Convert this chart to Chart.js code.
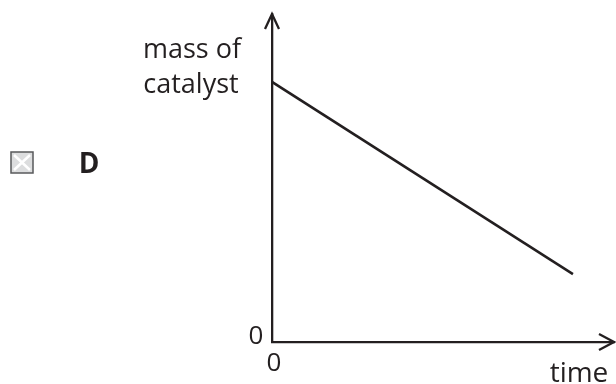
<!DOCTYPE html>
<html>
<head>
<meta charset="utf-8">
<script src="https://cdn.jsdelivr.net/npm/chart.js@4"></script>
<style>
  html, body { margin: 0; padding: 0; background: #fff; }
  #wrap { width: 616px; height: 384px; }
</style>
</head>
<body>
<div id="wrap"><canvas id="massChart" width="616" height="384"></canvas></div>
<script>
const ctx = document.getElementById("massChart").getContext("2d");

// data (arbitrary units, axes 0..10)
const timeValues = [0, 8.8];
const massValues = [7.93, 2.07];
const yAxisLabel = ["mass of", "catalyst"];
const xAxisLabel = "time";
const originLabel = "0";
const optionLetter = "D";

const ink = "#231f20";
const font = "'Open Sans', 'Noto Sans', sans-serif";

const points = timeValues.map((t, i) => ({ x: t, y: massValues[i] }));

// arrows, labels and the answer box
const sketchPlugin = {
  id: "sketch",
  afterDraw(chart) {
    const c = chart.ctx;
    const { left, right, top, bottom } = chart.chartArea;
    c.save();
    c.strokeStyle = ink;
    c.lineWidth = 2.3;
    c.lineCap = "butt";
    c.lineJoin = "miter";

    // y arrow head
    c.beginPath();
    c.moveTo(left - 7, top + 15);
    c.lineTo(left, top);
    c.lineTo(left + 7, top + 15);
    c.stroke();

    // x arrow head
    c.beginPath();
    c.moveTo(right - 15, bottom - 8);
    c.lineTo(right, bottom);
    c.lineTo(right - 15, bottom + 8);
    c.stroke();

    c.fillStyle = ink;
    c.font = "27px " + font;
    c.textAlign = "center";
    c.textBaseline = "alphabetic";
    c.fillText(yAxisLabel[0], 192, 58);
    c.fillText(yAxisLabel[1], 191, 93);

    c.font = "26px " + font;
    c.fillText(originLabel, left - 16, bottom + 2);
    c.fillText(originLabel, left + 2, bottom + 29);
    c.font = "28px " + font;
    c.fillText(xAxisLabel, right - 35, bottom + 40);

    // answer box with a cross
    c.fillStyle = "#dcddde";
    c.fillRect(11, 152, 22, 21);
    c.strokeStyle = "#58595b";
    c.lineWidth = 1.5;
    c.strokeRect(11, 152, 22, 21);
    c.strokeStyle = "#fff";
    c.lineWidth = 2.5;
    c.beginPath();
    c.moveTo(14, 155); c.lineTo(30, 170);
    c.moveTo(30, 155); c.lineTo(14, 170);
    c.stroke();

    c.fillStyle = ink;
    c.font = "bold 28px " + font;
    c.fillText(optionLetter, 89, 173);
    c.restore();
  }
};

const chart = new Chart(ctx, {
  type: "scatter",
  data: {
    datasets: [{
      data: points,
      showLine: true,
      borderColor: ink,
      borderWidth: 2.5,
      pointRadius: 0,
      fill: false
    }]
  },
  options: {
    responsive: false,
    animation: false,
    layout: { padding: { left: 272, right: 2, top: 14, bottom: 42 } },
    plugins: {
      legend: { display: false },
      tooltip: { enabled: false }
    },
    scales: {
      x: {
        type: "linear",
        min: 0,
        max: 10,
        ticks: { display: false },
        grid: { display: false, drawTicks: false },
        border: { display: true, color: ink, width: 2.3 }
      },
      y: {
        type: "linear",
        min: 0,
        max: 10,
        ticks: { display: false },
        grid: { display: false, drawTicks: false },
        border: { display: true, color: ink, width: 2.3 }
      }
    }
  },
  plugins: [sketchPlugin]
});
</script>
</body>
</html>
